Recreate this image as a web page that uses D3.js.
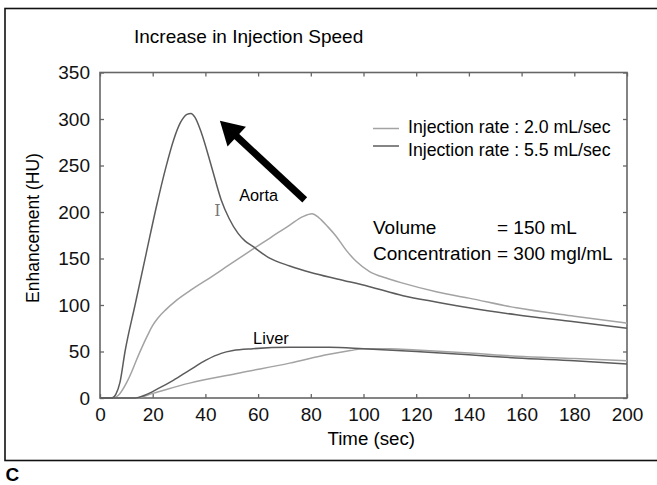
<!DOCTYPE html>
<html>
<head>
<meta charset="utf-8">
<script src="https://cdn.jsdelivr.net/npm/d3@7"></script>
<style>
  body { margin: 0; background: #fff; }
  svg { display: block; font-family: "Liberation Sans", Arial, sans-serif; }
</style>
</head>
<body>
<svg id="chart" width="657" height="485"></svg>
<script>
// time (sec) / enhancement (HU)
const aortaFast = [
  [0, 0], [4.5, 0], [6, 4], [7.6, 17], [9.5, 50], [13.3, 100], [17.5, 155], [21.5, 207],
  [25, 248], [28, 278], [30.5, 296], [33, 305], [34.5, 306], [36, 302], [38.5, 285],
  [42.3, 249], [46, 213], [49, 193], [52.4, 177], [55, 169], [58, 163], [64, 151],
  [72, 142], [80, 135], [90, 128], [102, 120], [115, 110], [128, 103], [140, 97],
  [158, 89.5], [180, 82], [200, 75]
];
const aortaSlow = [
  [0, 0], [5, 0], [7, 3], [10, 16], [12, 28], [14, 42], [16, 55], [18, 67], [20, 78],
  [22, 86], [25, 95], [29, 105], [35, 117], [40.5, 127], [50, 145], [58, 160],
  [64.5, 172], [72, 186], [77, 195], [80.5, 198], [83, 194], [86.5, 184], [89.6, 174],
  [93.4, 159], [97.2, 147], [102.3, 136], [108.6, 129], [114.9, 123.5], [128, 114],
  [140, 107.4], [158, 97], [180, 88], [200, 80.5]
];
const liverFast = [
  [0, 0], [13.5, 0], [17, 3], [22, 10], [27.8, 19], [34, 30], [40.4, 41], [46, 48],
  [50.5, 51], [58, 53], [72, 54.5], [87, 54.5], [100, 53], [120, 50], [140, 46.5],
  [158, 43], [180, 40], [200, 36.5]
];
const liverSlow = [
  [0, 0], [13.5, 0], [20, 5], [34, 16], [53, 27], [72, 37.5], [87, 47], [95, 51],
  [100, 53], [110, 53], [120, 51.5], [140, 48.5], [158, 45], [180, 42.5], [200, 40]
];

const xTicks = [0, 20, 40, 60, 80, 100, 120, 140, 160, 180, 200];
const yTicks = [0, 50, 100, 150, 200, 250, 300, 350];
const legendLabels = ['Injection rate : 2.0 mL/sec', 'Injection rate : 5.5 mL/sec'];
const infoLabels = ['Volume', 'Concentration'];
const infoValues = ['= 150 mL', '= 300 mgl/mL'];

// annotations in data units: [time, HU]
const arrowTail = [77.7, 213];
const arrowTip = [45.5, 298];
const aortaLabel = [52.8, 211.5];
const liverLabel = [58.1, 58];
const markerPos = [44.6, 196];

const fastColor = '#5c5c5c';
const slowColor = '#a3a3a3';

const svg = d3.select('#chart');
const margin = { top: 72.5, right: 30, bottom: 87, left: 100 };
const width = +svg.attr('width') - margin.left - margin.right;
const height = +svg.attr('height') - margin.top - margin.bottom;

// outer frame (right edge runs off the picture)
svg.append('rect')
  .attr('x', 5).attr('y', 8.5)
  .attr('width', 670).attr('height', 452)
  .attr('fill', 'none').attr('stroke', '#111').attr('stroke-width', 1.6);

svg.append('text')
  .attr('x', 134).attr('y', 42.5)
  .attr('font-size', 19)
  .text('Increase in Injection Speed');

svg.append('text')
  .attr('x', 5.5).attr('y', 481)
  .attr('font-size', 19).attr('font-weight', 'bold')
  .text('C');

const g = svg.append('g').attr('transform', `translate(${margin.left},${margin.top})`);

const x = d3.scaleLinear().domain([0, 200]).range([0, width]);
const y = d3.scaleLinear().domain([0, 350]).range([height, 0]);

const axisColor = '#666';

const styleAxis = sel => {
  sel.select('.domain').remove();
  sel.selectAll('.tick line').attr('stroke', axisColor).attr('stroke-width', 1.3);
  sel.selectAll('.tick text').attr('font-size', 19).attr('fill', '#111')
    .attr('font-family', '"Liberation Sans", Arial, sans-serif');
};

g.append('g')
  .attr('transform', `translate(0,${height})`)
  .call(d3.axisBottom(x).tickValues(xTicks).tickSizeInner(-4).tickSizeOuter(0).tickPadding(10))
  .call(styleAxis);

g.append('g')
  .call(d3.axisLeft(y).tickValues(yTicks).tickSizeInner(-4).tickSizeOuter(0).tickPadding(10))
  .call(styleAxis);

g.append('g')
  .call(d3.axisTop(x).tickValues(xTicks).tickSizeInner(-4).tickSizeOuter(0).tickFormat(''))
  .call(styleAxis);

g.append('g')
  .attr('transform', `translate(${width},0)`)
  .call(d3.axisRight(y).tickValues(yTicks).tickSizeInner(-4).tickSizeOuter(0).tickFormat(''))
  .call(styleAxis);

g.append('rect')
  .attr('width', width).attr('height', height)
  .attr('fill', 'none').attr('stroke', axisColor).attr('stroke-width', 1.6);

svg.append('text')
  .attr('x', margin.left + x(100) - 36).attr('y', 445)
  .attr('font-size', 18.7)
  .text('Time (sec)');

svg.append('text')
  .attr('transform', 'translate(39,228) rotate(-90)')
  .attr('text-anchor', 'middle')
  .attr('font-size', 17.5)
  .text('Enhancement (HU)');

const line = d3.line()
  .x(d => x(d[0]))
  .y(d => y(d[1]))
  .curve(d3.curveMonotoneX);

const series = [
  { data: aortaSlow, color: slowColor },
  { data: liverSlow, color: slowColor },
  { data: aortaFast, color: fastColor },
  { data: liverFast, color: fastColor }
];

g.selectAll('path.curve')
  .data(series)
  .enter().append('path')
  .attr('class', 'curve')
  .attr('d', d => line(d.data))
  .attr('fill', 'none')
  .attr('stroke', d => d.color)
  .attr('stroke-width', 1.5);

// labels on curves
g.append('text')
  .attr('x', x(aortaLabel[0])).attr('y', y(aortaLabel[1]))
  .attr('font-size', 16.3)
  .text('Aorta');

g.append('text')
  .attr('x', x(liverLabel[0])).attr('y', y(liverLabel[1]))
  .attr('font-size', 16.5)
  .text('Liver');

g.append('text')
  .attr('x', x(markerPos[0])).attr('y', y(markerPos[1]))
  .attr('text-anchor', 'middle')
  .attr('font-family', '"DejaVu Serif", serif')
  .attr('font-size', 16)
  .attr('fill', '#777')
  .text('I');

// big arrow
const tx = x(arrowTail[0]), ty = y(arrowTail[1]);
const hx = x(arrowTip[0]), hy = y(arrowTip[1]);
const len = Math.hypot(hx - tx, hy - ty);
const ux = (hx - tx) / len, uy = (hy - ty) / len;
const headLen = 23, headHalf = 13.5;
const bx = hx - ux * headLen, by = hy - uy * headLen;

g.append('line')
  .attr('x1', tx).attr('y1', ty)
  .attr('x2', bx + ux * 2).attr('y2', by + uy * 2)
  .attr('stroke', '#000').attr('stroke-width', 7);

g.append('path')
  .attr('d', `M${hx},${hy}L${bx - uy * headHalf},${by + ux * headHalf}L${bx + uy * headHalf},${by - ux * headHalf}Z`)
  .attr('fill', '#000');

// legend: swatches sit closer together than the text rows
const legend = g.append('g');
legendLabels.forEach((lab, i) => {
  const lineY = 56 + i * 17.5;
  const textY = 60.2 + i * 23.3;
  legend.append('line')
    .attr('x1', 273).attr('x2', 299)
    .attr('y1', lineY).attr('y2', lineY)
    .attr('stroke', i === 0 ? slowColor : fastColor)
    .attr('stroke-width', 1.5);
  legend.append('text')
    .attr('x', 308).attr('y', textY)
    .attr('font-size', 17.7)
    .text(lab);
});

// injection info
infoLabels.forEach((lab, i) => {
  const iy = 161.5 + i * 26;
  g.append('text').attr('x', 273).attr('y', iy).attr('font-size', 19).text(lab);
  g.append('text').attr('x', 397).attr('y', iy).attr('font-size', 19).text(infoValues[i]);
});
</script>
</body>
</html>
